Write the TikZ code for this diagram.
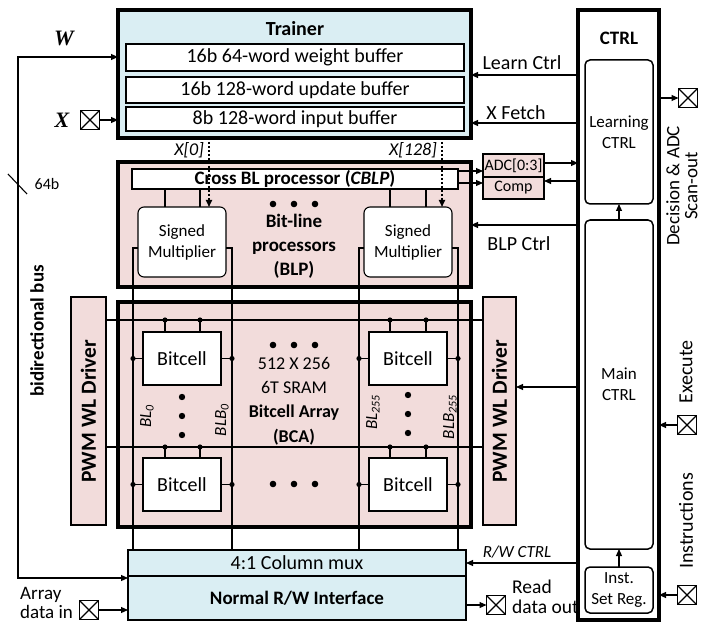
\documentclass[tikz,border=0pt]{standalone}
\usepackage{fontspec}
\setmainfont{Carlito}
\newfontfamily\wxfont{Liberation Serif}
\usepackage{tikz}
\usetikzlibrary{arrows.meta, calc}
\definecolor{trainblue}{HTML}{DAEEF3}
\definecolor{arraypink}{HTML}{F2DCDB}
\tikzset{
  lbl/.style={font=\fontsize{20}{22}\selectfont},
  lblb/.style={font=\fontsize{19}{23}\selectfont\bfseries},
  sml/.style={font=\fontsize{17}{21}\selectfont, align=center},
  blk/.style={draw, line width=1.1pt, inner sep=0pt, outer sep=0pt, anchor=north west},
  heavy/.style={blk, line width=3.4pt},
  pin/.style={draw, line width=1.1pt, minimum size=19pt, inner sep=0pt, outer sep=0pt,
              path picture={\draw[line width=1.1pt] (path picture bounding box.north west) -- (path picture bounding box.south east)
                (path picture bounding box.north east) -- (path picture bounding box.south west);}},
  wire/.style={line width=1.1pt},
  flow/.style={-{Triangle[length=7pt,width=6pt]}, line width=1.1pt},
  biflow/.style={{Triangle[length=7pt,width=6pt]}-{Triangle[length=7pt,width=6pt]}, line width=1.1pt},
  dotflow/.style={-{Triangle[length=7pt,width=6pt]}, line width=1.6pt, dash pattern=on 2.5pt off 1.5pt},
}

\begin{document}
\begin{tikzpicture}[x=1pt, y=-1pt,
  cellbox/.style={blk, fill=white, lbl, minimum width=78pt, minimum height=53pt},
  mulbox/.style={blk, fill=white, sml, rounded corners=6pt, minimum width=88pt, minimum height=70pt},
  ctrlbox/.style={blk, sml, line width=1.5pt, rounded corners=5pt, minimum width=68pt},
  vlbl/.style={rotate=90, font=\fontsize{17}{20}\selectfont\itshape},
  pwmlbl/.style={rotate=90, font=\fontsize{21.5}{24}\selectfont\bfseries}]
  \useasboundingbox (0,0) rectangle (702,623);
  % trainer
  \node[heavy, fill=trainblue, minimum width=353pt, minimum height=128pt] (trainer) at (118,10) {};
  \node[font=\fontsize{20}{22}\selectfont\bfseries] (trainertxt) at (295,29) {Trainer};
  \node[blk, fill=white, lbl, minimum width=338pt, minimum height=27pt] (wbuf) at (126,44) {16b 64-word weight buffer};
  \node[blk, fill=white, lbl, minimum width=338pt, minimum height=26pt] (ubuf) at (126,77) {16b 128-word update buffer};
  \node[blk, fill=white, lbl, minimum width=338pt, minimum height=24pt] (ibuf) at (126,107) {8b 128-word input buffer};
  % bit-line processors
  \node[heavy, fill=arraypink, minimum width=353pt, minimum height=125pt] (blp) at (118,162) {};
  \node[blk, fill=white, lblb, minimum width=326pt, minimum height=20pt] (cblp) at (132,169) {Cross BL processor (\textit{CBLP})};
  \node[mulbox] (mul0) at (138,207) {Signed\\Multiplier};
  \node[mulbox] (mul1) at (364,207) {Signed\\Multiplier};
  \node[align=center, font=\fontsize{19}{24}\selectfont\bfseries] (blptxt) at (294,246) {Bit-line\\processors\\(BLP)};
  % bitcell array
  \node[heavy, fill=arraypink, minimum width=353pt, minimum height=225pt] (bca) at (118,302) {};
  \node[blk, fill=arraypink, minimum width=35pt, minimum height=228pt] (pwml) at (71,297) {};
  \node[blk, fill=arraypink, minimum width=33pt, minimum height=228pt] (pwmr) at (483,297) {};
  \node[pwmlbl] (pwmltxt) at (pwml.center) {PWM WL Driver};
  \node[pwmlbl] (pwmrtxt) at (pwmr.center) {PWM WL Driver};
  \node[align=center, font=\fontsize{18}{24.3}\selectfont] (bcatxt) at (294,401) {512 X 256\\6T SRAM\\\textbf{Bitcell Array}\\\textbf{(BCA)}};
  % column mux and interface
  \node[blk, fill=trainblue, lbl, minimum width=338pt, minimum height=26pt] (mux) at (128,550) {4:1 Column mux};
  \node[blk, fill=trainblue, lblb, minimum width=338pt, minimum height=44pt] (rwif) at (128,576) {Normal R/W Interface};
  % ADC / comparator
  \node[blk, fill=arraypink, font=\fontsize{16}{18}\selectfont, minimum width=61pt, minimum height=23pt] (adc) at (483,154) {ADC[0:3]};
  \node[blk, fill=arraypink, font=\fontsize{16}{18}\selectfont, minimum width=61pt, minimum height=22pt] (comp) at (483,177) {Comp};
  % controller
  \node[heavy, minimum width=81pt, minimum height=610pt] (ctrl) at (578,10) {};
  \node[font=\fontsize{19}{22}\selectfont\bfseries] (ctrltxt) at (619,38) {CTRL};
  \node[ctrlbox, minimum height=144pt] (lctrl) at (585,60) {Learning\\CTRL};
  \node[ctrlbox, minimum height=329pt] (mctrl) at (585,220) {Main\\CTRL};
  \node[ctrlbox, minimum height=46pt] (isr) at (585,567) {Inst.\\Set Reg.};
  % pins
  \node[pin] (xpin) at (90,120) {};
  \node[pin] (dinpin) at (89,610) {};
  \node[pin] (doutpin) at (496,605) {};
  \node[pin] (decpin) at (688,98) {};
  \node[pin] (exepin) at (687,425) {};
  \node[pin] (inspin) at (687,595) {};
  % bit lines, word lines, cells
  \foreach \c/\xx/\xa/\xb/\xc/\xd in {0/143/133/232/165/200, 1/369/359/458/390/426} {
    \coordinate (bl\c) at (\xa,248);
    \coordinate (blb\c) at (\xb,248);
    \draw[wire] (mul\c.west |- bl\c) -- (bl\c) -- (bl\c |- mux.north);
    \draw[wire] (mul\c.east |- blb\c) -- (blb\c) -- (blb\c |- mux.north);
    \draw[wire] (cblp.south -| \xc,0) -- (mul\c.north -| \xc,0);
    \draw[wire] (cblp.south -| \xd,0) -- (mul\c.north -| \xd,0);
    \foreach \r/\yt/\yw in {0/332/320, 1/458/447} {
      \node[cellbox] (cell\r\c) at (\xx,\yt) {Bitcell};
      \draw[wire] (cell\r\c.north -| \xc,0) -- (\xc,\yw);
      \draw[wire] (cell\r\c.north -| \xd,0) -- (\xd,\yw);
      \draw[wire] (cell\r\c.west) -- (cell\r\c.west -| bl\c);
      \draw[wire] (cell\r\c.east) -- (cell\r\c.east -| blb\c);
      \fill (\xc,\yw) circle (2.6pt) (\xd,\yw) circle (2.6pt);
      \fill (cell\r\c.west -| bl\c) circle (2.6pt) (cell\r\c.east -| blb\c) circle (2.6pt);
    }
  }
  \foreach \yw in {320,447}
    \draw[wire] (pwml.east |- 0,\yw) -- (pwmr.west |- 0,\yw);
  \foreach \y in {397,416,435} { \fill (182,\y) circle (3.2pt); \fill (408,\y-2) circle (3.2pt); }
  \foreach \y in {204,345,484} \foreach \x in {273,294,315} \fill (\x,\y) circle (3.3pt);
  \node[vlbl] (bl0lbl) at (147,416) {BL\textsubscript{0}};
  \node[vlbl] (blb0lbl) at (222,420) {BLB\textsubscript{0}};
  \node[vlbl] (bl1lbl) at (373,412) {BL\textsubscript{255}};
  \node[vlbl] (blb1lbl) at (450,417) {BLB\textsubscript{255}};
  % inputs to the processors
  \draw[dotflow] (trainer.south -| 209,0) -- (mul0.north -| 209,0);
  \draw[dotflow] (trainer.south -| 442,0) -- (mul1.north -| 442,0);
  \node[font=\fontsize{18}{20}\selectfont\itshape, anchor=east, inner sep=0pt] (x0lbl) at (204,150) {X[0]};
  \node[font=\fontsize{18}{20}\selectfont\itshape, anchor=east, inner sep=0pt] (x1lbl) at (437,150) {X[128]};
  % bidirectional bus
  \coordinate (bustop) at (18,57);
  \coordinate (busbot) at (18,578);
  \draw[biflow] (trainer.west |- bustop) -- (bustop) -- (busbot) -- (rwif.west |- busbot);
  \draw[wire] (8,174) -- (27,194);
  \node[font=\fontsize{16}{18}\selectfont] (buswidth) at (47,184) {64b};
  \node[lblb, rotate=90] (buslbl) at (37,331) {bidirectional bus};
  \node[font=\fontsize{22}{24}\wxfont\bfseries\itshape] (wlbl) at (64,38) {W};
  \node[font=\fontsize{22}{24}\wxfont\bfseries\itshape] (xlbl) at (62,120) {X};
  \draw[flow] (xpin.east) -- (trainer.west |- xpin);
  \draw[flow] (dinpin.east) -- (rwif.west |- dinpin);
  \draw[flow] (rwif.east |- doutpin) -- (doutpin.west);
  \node[font=\fontsize{19}{18.5}\selectfont, align=left, anchor=west, inner sep=0pt] (arraylbl) at (20,603) {Array\\data in};
  \node[font=\fontsize{19.5}{20}\selectfont, align=left, anchor=west, inner sep=0pt] (readlbl) at (512,597) {Read\\data out};
  % control signals
  \draw[flow] (ctrl.west |- 0,75) -- (trainer.east |- 0,75);
  \draw[flow] (ctrl.west |- 0,123) -- (trainer.east |- 0,123);
  \draw[flow] (ctrl.west |- 0,225) -- (blp.east |- 0,225);
  \draw[flow] (ctrl.west |- 0,387) -- (pwmr.east |- 0,387);
  \draw[flow] (ctrl.west |- 0,563) -- (mux.east |- 0,563);
  \draw[flow] (cblp.east |- 0,171) -- (adc.west |- 0,171);
  \draw[flow] (cblp.east |- 0,183) -- (comp.west |- 0,183);
  \draw[flow] (adc.east |- 0,163) -- (ctrl.west |- 0,163);
  \draw[flow] (ctrl.west |- 0,181) -- (comp.east |- 0,181);
  \node[lbl] (learnlbl) at (522,63) {Learn Ctrl};
  \node[lbl] (fetchlbl) at (516,113) {X Fetch};
  \node[lbl] (blplbl) at (519,244) {BLP Ctrl};
  \node[font=\fontsize{17}{20}\selectfont\itshape] (rwlbl) at (517,552) {R/W CTRL};
  \draw[flow] (mctrl.north) -- (lctrl.south);
  \draw[flow] (isr.north) -- (mctrl.south);
  \draw[flow] (ctrl.east |- decpin) -- (decpin.west);
  \draw[flow] (exepin.west) -- (ctrl.east |- exepin);
  \draw[flow] (inspin.west) -- (ctrl.east |- inspin);
  \node[rotate=90, align=center, font=\fontsize{19}{18}\selectfont, inner sep=0pt] (declbl) at (682,186) {Decision \& ADC\\Scan-out};
  \node[lbl, rotate=90] (exelbl) at (686,372) {Execute};
  \node[lbl, rotate=90] (inslbl) at (686,521) {Instructions};
\end{tikzpicture}
\end{document}
